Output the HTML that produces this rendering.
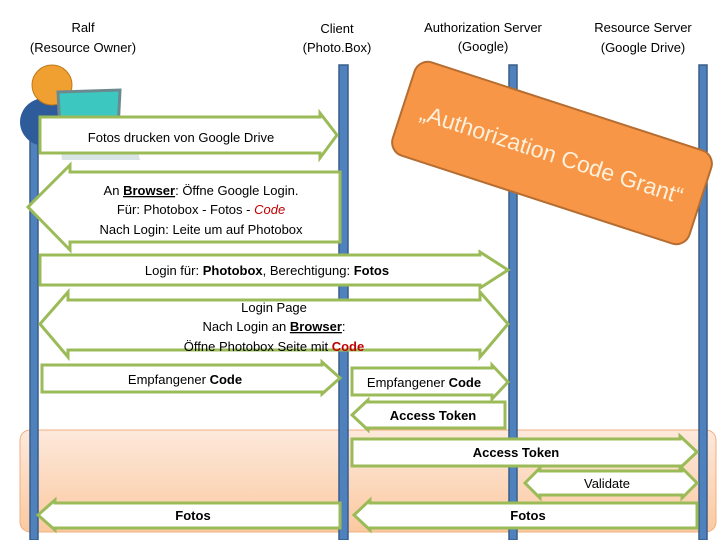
<!DOCTYPE html>
<html><head><meta charset="utf-8"><style>
body{margin:0;width:720px;height:540px;overflow:hidden;background:#fff;font-family:"Liberation Sans",sans-serif}
svg{position:absolute;left:0;top:0}
</style></head><body>
<svg width="720" height="540" viewBox="0 0 720 540" font-family="Liberation Sans, sans-serif">
<defs>
<linearGradient id="og" x1="0" y1="0" x2="0" y2="1"><stop offset="0" stop-color="#fde9dc"/><stop offset="1" stop-color="#fbc9a0"/></linearGradient>
</defs>
<rect x="20" y="430" width="696" height="102" rx="10" fill="url(#og)" stroke="#f0b080"/>
<g font-size="13" fill="#000" text-anchor="middle">
<text x="83" y="32">Ralf</text><text x="83" y="52">(Resource Owner)</text>
<text x="337" y="33">Client</text><text x="337" y="52">(Photo.Box)</text>
<text x="483" y="32">Authorization Server</text><text x="483" y="51">(Google)</text>
<text x="643" y="32">Resource Server</text><text x="643" y="52">(Google Drive)</text>
</g>
<g fill="#4f81bd" stroke="#385d8a" stroke-width="1.5">
<rect x="30" y="125" width="8" height="415"/>
<rect x="339" y="65" width="9" height="475"/>
<rect x="509" y="65" width="8" height="475"/>
<rect x="699" y="65" width="8" height="475"/>
</g>
<!-- person -->
<ellipse cx="45" cy="122" rx="25" ry="24" fill="#2e5c9a"/>
<circle cx="52" cy="85" r="20" fill="#f0a030" stroke="#c07818"/>
<polygon points="58,92 120,90 118,130 60,130" fill="#3cc8c0" stroke="#6a8a90" stroke-width="3"/>
<polygon points="60,140 135,140 140,160 62,160" fill="#d8e4e6"/>
<g transform="rotate(18 552 153)">
<rect x="396" y="104" width="312" height="98" rx="14" fill="#f79646" stroke="#b66d31" stroke-width="2"/>
<text x="552" y="162" font-size="23" fill="#fdf0dc" text-anchor="middle">„Authorization Code Grant“</text>
</g>
<g fill="#fff" stroke="#9bbb59" stroke-width="3">
<polygon points="40,117 320,117 320,113 337,135 320,158 320,153 40,153"/>
<polygon points="340,172 70,172 70,165 28,207 70,250 70,242 340,242"/>
<polygon points="40,255 480,255 480,252 508,270 480,288 480,285 40,285"/>
<polygon points="40,324 68,292 68,300 480,300 480,292 508,324 480,357 480,350 68,350 68,357"/>
<polygon points="42,365 322,365 322,362 340,378 322,394 322,392 42,392"/>
<polygon points="352,368 492,368 492,365 508,382 492,399 492,395 352,395"/>
<polygon points="505,402 368,402 368,400 352,415 368,430 368,428 505,428"/>
<polygon points="352,439 680,439 680,436 697,452 680,468 680,466 352,466"/>
<polygon points="525,483 540,468 540,471 682,471 682,468 697,483 682,498 682,495 540,495 540,498"/>
<polygon points="340,503 55,503 55,500 38,515 55,530 55,528 340,528"/>
<polygon points="697,503 370,503 370,500 354,515 370,530 370,528 697,528"/>
</g>
<g font-size="13" fill="#000" text-anchor="middle">
<text x="181" y="142">Fotos drucken von Google Drive</text>
<text x="201" y="195">An <tspan font-weight="bold" text-decoration="underline">Browser</tspan>: Öffne Google Login.</text>
<text x="201" y="214">Für: Photobox - Fotos - <tspan fill="#c00000" font-style="italic">Code</tspan></text>
<text x="201" y="234">Nach Login: Leite um auf Photobox</text>
<text x="267" y="275">Login   für: <tspan font-weight="bold">Photobox</tspan>,   Berechtigung: <tspan font-weight="bold">Fotos</tspan></text>
<text x="274" y="312">Login Page</text>
<text x="274" y="331">Nach Login an <tspan font-weight="bold" text-decoration="underline">Browser</tspan>:</text>
<text x="274" y="351">Öffne Photobox Seite mit <tspan font-weight="bold" fill="#c00000">Code</tspan></text>
<text x="185" y="384">Empfangener <tspan font-weight="bold">Code</tspan></text>
<text x="424" y="387">Empfangener <tspan font-weight="bold">Code</tspan></text>
<text x="433" y="420" font-weight="bold">Access Token</text>
<text x="516" y="457" font-weight="bold">Access Token</text>
<text x="607" y="488">Validate</text>
<text x="193" y="520" font-weight="bold">Fotos</text>
<text x="528" y="520" font-weight="bold">Fotos</text>
</g>
</svg>
</body></html>
